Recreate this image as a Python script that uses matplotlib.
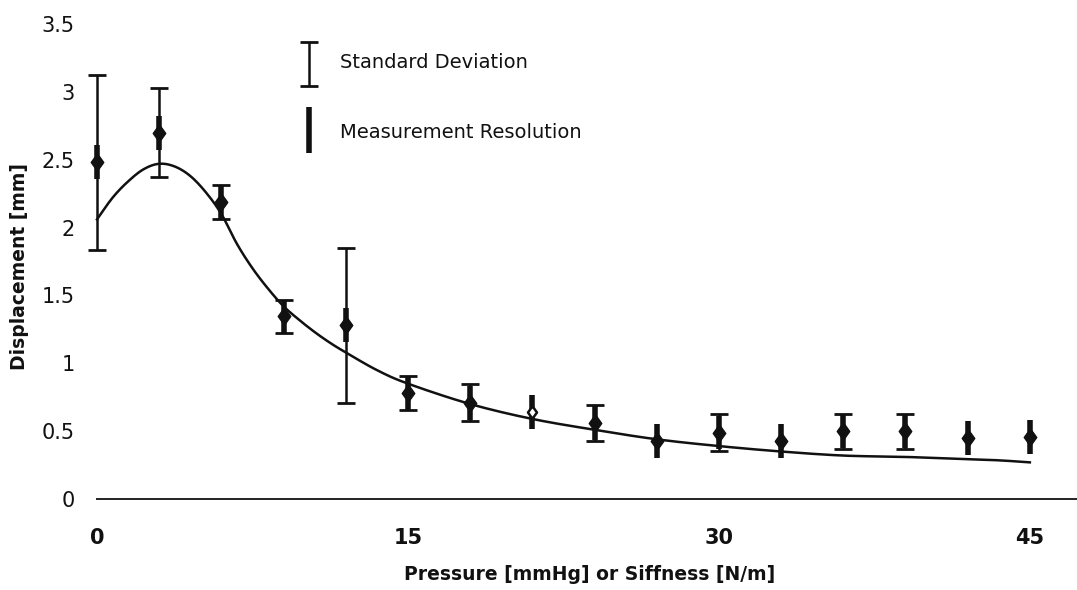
import numpy as np
import matplotlib
matplotlib.use("Agg")
import matplotlib.pyplot as plt

plt.rcParams['font.family'] = ['DejaVu Sans']

# Measured data
pressure = [0, 3, 6, 9, 12, 15, 18, 21, 24, 27, 30, 33, 36, 39, 42, 45]
displacement = [2.48, 2.70, 2.19, 1.345, 1.28, 0.78, 0.71, 0.64, 0.56, 0.43,
                0.49, 0.43, 0.50, 0.50, 0.45, 0.46]
std_dev = [0.645, 0.325, 0.125, 0.125, 0.57, 0.125, 0.135, np.nan, 0.13, np.nan,
           0.135, np.nan, 0.13, 0.13, np.nan, np.nan]
resolution = 0.125
hollow_point = [False] * 7 + [True] + [False] * 8

# Model curve
curve_x = [0, 0.75, 1.5, 2.25, 3, 3.75, 4.5, 5.25, 6, 6.75, 7.5, 8.25, 9, 9.75,
           10.5, 11.25, 12, 13.5, 15, 18, 21, 24, 27, 30, 33, 36, 39, 42, 43.5, 45]
curve_y = [2.06, 2.22, 2.34, 2.43, 2.47, 2.45, 2.38, 2.26, 2.10, 1.88, 1.70, 1.55,
           1.42, 1.32, 1.23, 1.15, 1.08, 0.95, 0.85, 0.70, 0.59, 0.51, 0.44, 0.39,
           0.35, 0.32, 0.31, 0.293, 0.285, 0.27]

x_ticks = [0, 15, 30, 45]
y_ticks = [0, 0.5, 1, 1.5, 2, 2.5, 3, 3.5]
y_ticklabels = ['0', '0.5', '1', '1.5', '2', '2.5', '3', '3.5']


def catmull_rom(xs, ys, n=12):
    xs = np.asarray(xs, float)
    ys = np.asarray(ys, float)
    px = np.concatenate([[2 * xs[0] - xs[1]], xs, [2 * xs[-1] - xs[-2]]])
    py = np.concatenate([[2 * ys[0] - ys[1]], ys, [2 * ys[-1] - ys[-2]]])
    ox, oy = [], []
    t = np.linspace(0, 1, n, endpoint=False)
    for i in range(1, len(px) - 2):
        for P, out in ((px, ox), (py, oy)):
            p0, p1, p2, p3 = P[i - 1], P[i], P[i + 1], P[i + 2]
            out.extend(0.5 * ((2 * p1) + (-p0 + p2) * t
                              + (2 * p0 - 5 * p1 + 4 * p2 - p3) * t ** 2
                              + (-p0 + 3 * p1 - 3 * p2 + p3) * t ** 3))
    ox.append(xs[-1])
    oy.append(ys[-1])
    return np.array(ox), np.array(oy)


def unclip(container):
    for child in container.get_children():
        child.set_clip_on(False)


W, H = 1077, 590
y0_px, ytop_px = 499, 24
fig = plt.figure(figsize=(W / 100, H / 100), dpi=100)
ax = fig.add_axes([97 / W, (H - y0_px) / H, 1 - 97 / W, (y0_px - ytop_px) / H])

col = '#111111'
diamond = [(0, 1), (0.72, 0), (0, -1), (-0.72, 0), (0, 1)]

# model curve
cx, cy = catmull_rom(curve_x, curve_y)
ax.plot(cx, cy, color=col, lw=1.8, zorder=2, clip_on=False)

# standard deviation bars
c1 = ax.errorbar(pressure, displacement, yerr=std_dev, fmt='none', ecolor=col,
                 elinewidth=1.8, capsize=6.5, capthick=2.0, zorder=3)
unclip(c1)
# measurement resolution bars
c2 = ax.errorbar(pressure, displacement, yerr=resolution, fmt='none', ecolor=col,
                 elinewidth=4.0, capsize=0, zorder=4)
unclip(c2)

# markers
px = np.array(pressure)
py = np.array(displacement)
hp = np.array(hollow_point)
ax.plot(px[~hp], py[~hp], linestyle='none', marker=diamond, markersize=12.5,
        color=col, zorder=5, clip_on=False)
ax.plot(px[hp], py[hp], linestyle='none', marker=diamond, markersize=9,
        markerfacecolor='white', markeredgecolor=col, markeredgewidth=1.8,
        zorder=5, clip_on=False)

ax.set_xlim(0, (W - 97) / 20.73)
ax.set_ylim(0, 3.5)
ax.set_xticks(x_ticks)
ax.set_xticklabels([str(v) for v in x_ticks], fontweight='bold')
ax.set_yticks(y_ticks)
ax.set_yticklabels(y_ticklabels)
ax.tick_params(axis='both', length=0, colors=col)
ax.tick_params(axis='x', pad=21, labelsize=15)
ax.tick_params(axis='y', pad=16, labelsize=15)
for s in ('top', 'right', 'left'):
    ax.spines[s].set_visible(False)
ax.spines['bottom'].set_linewidth(1.4)
ax.spines['bottom'].set_color('#222222')

ax.set_xlabel('Pressure [mmHg] or Siffness [N/m]', fontsize=13.5,
              fontweight='bold', color=col)
ax.xaxis.label.set_va('center')
ax.xaxis.set_label_coords((590 - 97) / 980, (y0_px - 575) / (y0_px - ytop_px))
ax.set_ylabel('Displacement [mm]', fontsize=13.5, fontweight='bold', color=col)
ax.yaxis.label.set_va('center')
ax.yaxis.set_label_coords((20 - 97) / 980, (y0_px - 266) / (y0_px - ytop_px))

# legend drawn by hand (axes-fraction positions)
lx = (309 - 97) / 980
tx = (340 - 97) / 980
ax.errorbar([lx], [3.205 / 3.5], yerr=[0.165 / 3.5], fmt='none', ecolor=col,
            elinewidth=1.8, capsize=6.5, capthick=2.0, transform=ax.transAxes)
ax.plot([lx, lx], [2.55 / 3.5, 2.89 / 3.5], color=col, lw=4.0,
        transform=ax.transAxes, solid_capstyle='butt')
ax.text(tx, 3.22 / 3.5, 'Standard Deviation', transform=ax.transAxes,
        fontsize=14, va='center', ha='left', color=col)
ax.text(tx, 2.70 / 3.5, 'Measurement Resolution', transform=ax.transAxes,
        fontsize=14, va='center', ha='left', color=col)

fig.savefig('out.png', dpi=100)
